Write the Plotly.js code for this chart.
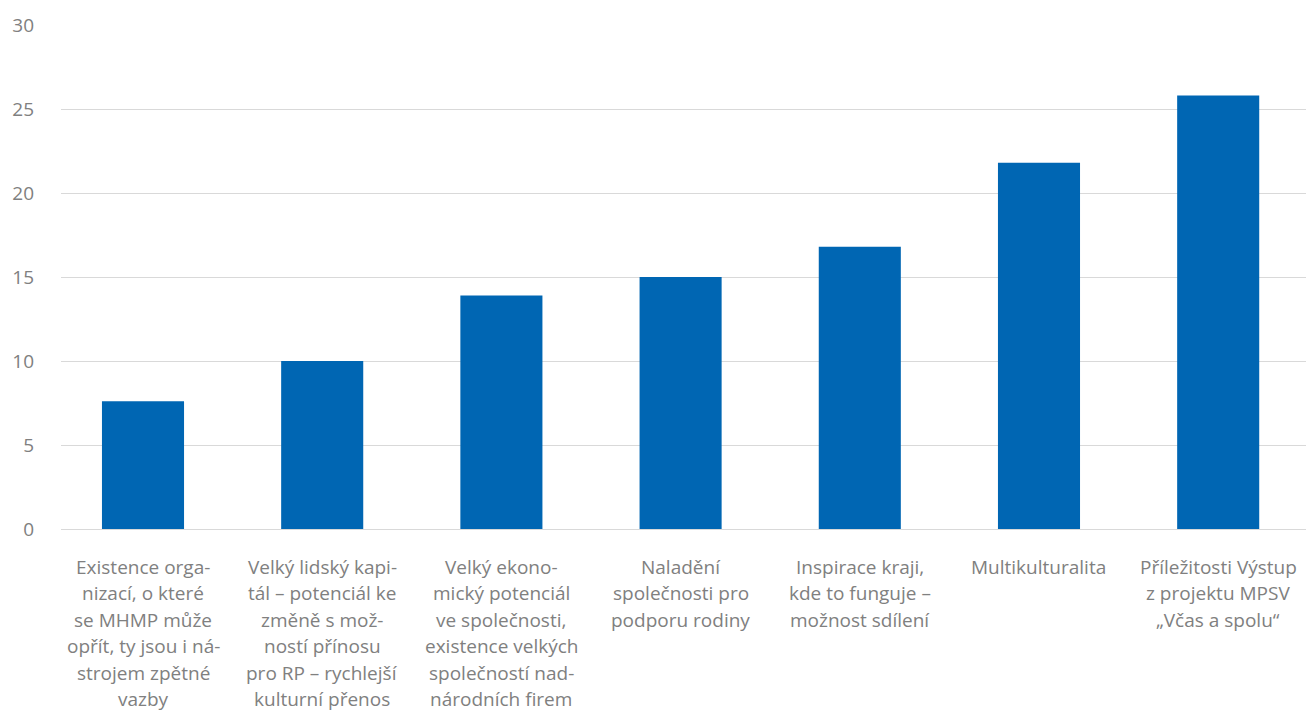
<!DOCTYPE html>
<html>
<head>
<meta charset="utf-8">
<script src="https://cdn.plot.ly/plotly-3.0.1.min.js"></script>
<style>html,body{margin:0;padding:0;background:#fff;}#chart{width:1306px;height:711px;}</style>
</head>
<body>
<div id="chart"></div>
<script>
// Category labels, one array of lines per category (as wrapped in the original)
const categoryLines = [
  ["Existence orga-", "nizací, o které", "se MHMP může", "opřít, ty jsou i ná-", "strojem zpětné", "vazby"],
  ["Velký lidský kapi-", "tál – potenciál ke", "změně s mož-", "ností přínosu", "pro RP – rychlejší", "kulturní přenos"],
  ["Velký ekono-", "mický potenciál", "ve společnosti,", "existence velkých", "společností nad-", "národních firem"],
  ["Naladění", "společnosti pro", "podporu rodiny"],
  ["Inspirace kraji,", "kde to funguje –", "možnost sdílení"],
  ["Multikulturalita"],
  ["Příležitosti Výstup", "z projektu MPSV", "„Včas a spolu“"]
];
const values = [7.6, 10.0, 13.9, 15.0, 16.8, 21.8, 25.8];
const yTicks = [0, 5, 10, 15, 20, 25, 30];

const categories = categoryLines.map(l => l.join(" "));

const FONT = "Open Sans, Noto Sans, sans-serif";
const GRAY = "#808080";

const annotations = [];
categoryLines.forEach((lines, i) => {
  lines.forEach((line, j) => {
    annotations.push({
      x: categories[i], xref: "x",
      y: 0, yref: "paper",
      yanchor: "middle", xanchor: "center",
      yshift: -(38 + j * 26.4),
      text: line, showarrow: false,
      borderpad: 0,
      font: {family: FONT, size: 19, color: GRAY}
    });
  });
});

const data = [{
  type: "bar",
  x: categories,
  y: values,
  marker: {color: "#0066b3"},
  hoverinfo: "x+y"
}];

const layout = {
  width: 1306, height: 711,
  margin: {l: 61, r: 0, t: 25, b: 182, pad: 0},
  paper_bgcolor: "#fff", plot_bgcolor: "#fff",
  showlegend: false,
  bargap: 0.542,
  xaxis: {
    type: "category",
    range: [-0.4576, 6.49],
    showticklabels: false,
    showgrid: false, zeroline: false, showline: false, ticks: ""
  },
  yaxis: {
    range: [0, 30],
    tickvals: yTicks,
    ticktext: yTicks.map(String),
    showgrid: true, gridcolor: "#d9d9d9", gridwidth: 1,
    zeroline: true, zerolinecolor: "#d9d9d9", zerolinewidth: 1,
    showline: false, ticks: "",
    ticklabelstandoff: 26,
    tickfont: {family: FONT, size: 19, color: GRAY}
  },
  annotations: annotations,
  font: {family: FONT, color: GRAY}
};

Plotly.newPlot("chart", data, layout, {displayModeBar: false, staticPlot: true});
</script>
</body>
</html>
